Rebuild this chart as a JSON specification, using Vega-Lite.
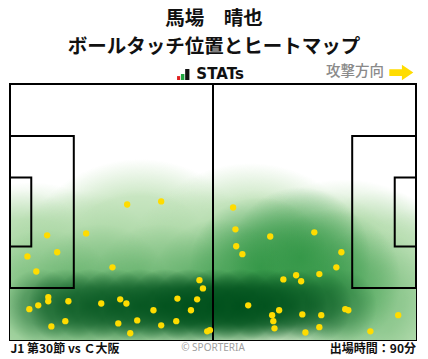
{
  "$schema": "https://vega.github.io/schema/vega-lite/v6.json",
  "width": 406,
  "height": 256,
  "autosize": {"type": "none"},
  "padding": {"left": 10, "top": 84, "right": 12, "bottom": 19},
  "background": "white",
  "config": {"view": {"stroke": "#000", "strokeWidth": 2}, "font": "Noto Sans CJK JP"},
  "datasets": {
    "touches": [
      {"x": 30.3, "y": 32.0}, {"x": 39.1, "y": 31.2}, {"x": 9.6, "y": 40.2}, {"x": 19.7, "y": 39.7},
      {"x": 12.2, "y": 44.7}, {"x": 4.5, "y": 45.8}, {"x": 6.8, "y": 49.8}, {"x": 26.5, "y": 48.7},
      {"x": 49.0, "y": 52.1}, {"x": 49.9, "y": 54.3}, {"x": 9.9, "y": 56.6}, {"x": 9.9, "y": 57.7},
      {"x": 15.1, "y": 57.7}, {"x": 7.3, "y": 58.8}, {"x": 5.0, "y": 59.8}, {"x": 23.6, "y": 58.3},
      {"x": 28.5, "y": 57.2}, {"x": 30.1, "y": 58.3}, {"x": 43.3, "y": 57.0}, {"x": 48.4, "y": 57.2},
      {"x": 37.1, "y": 60.1}, {"x": 46.8, "y": 60.1}, {"x": 14.3, "y": 63.0}, {"x": 10.7, "y": 64.4},
      {"x": 28.0, "y": 63.6}, {"x": 32.9, "y": 62.8}, {"x": 43.0, "y": 63.0}, {"x": 39.1, "y": 64.1},
      {"x": 31.1, "y": 66.2}, {"x": 51.0, "y": 65.7}, {"x": 51.7, "y": 65.4},
      {"x": 57.7, "y": 32.8}, {"x": 58.3, "y": 38.6}, {"x": 67.3, "y": 40.5}, {"x": 78.7, "y": 39.4},
      {"x": 58.5, "y": 43.1}, {"x": 60.1, "y": 45.2}, {"x": 85.7, "y": 44.7}, {"x": 84.4, "y": 48.7},
      {"x": 80.0, "y": 50.5}, {"x": 74.0, "y": 50.8}, {"x": 70.7, "y": 51.9}, {"x": 75.3, "y": 52.4},
      {"x": 61.6, "y": 58.8}, {"x": 69.6, "y": 60.1}, {"x": 67.8, "y": 61.4}, {"x": 68.1, "y": 63.0},
      {"x": 68.4, "y": 64.9}, {"x": 75.6, "y": 61.2}, {"x": 80.5, "y": 61.4}, {"x": 80.0, "y": 64.6},
      {"x": 76.4, "y": 66.0}, {"x": 86.7, "y": 59.8}, {"x": 87.5, "y": 60.1}, {"x": 100.4, "y": 61.4},
      {"x": 93.2, "y": 65.7}
    ],
    "heat": [
      {"level": "pale", "x": 5.2, "y": 61.4, "w": 1},
      {"level": "pale", "x": 33.6, "y": 55.2, "w": 1},
      {"level": "pale", "x": 62.1, "y": 56.3, "w": 1},
      {"level": "pale", "x": 86.6, "y": 60.6, "w": 1},
      {"level": "pale", "x": 108.6, "y": 68.0, "w": 1},
      {"level": "light", "x": 2.6, "y": 49.4, "w": 0.55},
      {"level": "light", "x": 18.1, "y": 49.4, "w": 0.55},
      {"level": "light", "x": 33.6, "y": 49.4, "w": 0.55},
      {"level": "light", "x": 49.1, "y": 49.4, "w": 0.55},
      {"level": "light", "x": 64.7, "y": 49.4, "w": 0.6},
      {"level": "light", "x": 80.2, "y": 49.4, "w": 0.6},
      {"level": "light", "x": 95.7, "y": 49.4, "w": 0.45},
      {"level": "light", "x": 5.2, "y": 65.3, "w": 0.4},
      {"level": "light", "x": 28.4, "y": 65.3, "w": 0.4},
      {"level": "light", "x": 98.3, "y": 65.3, "w": 0.4},
      {"level": "mid", "x": 75.0, "y": 46.2, "w": 1},
      {"level": "mid", "x": 64.7, "y": 48.9, "w": 1},
      {"level": "mid", "x": 82.8, "y": 52.1, "w": 0.75},
      {"level": "mid", "x": 54.3, "y": 54.7, "w": 0.6},
      {"level": "mid", "x": 38.8, "y": 56.0, "w": 0.5},
      {"level": "mid", "x": 23.3, "y": 56.0, "w": 0.5},
      {"level": "mid", "x": 9.1, "y": 57.4, "w": 0.4},
      {"level": "mid", "x": 93.1, "y": 57.4, "w": 0.4},
      {"level": "dark", "x": 7.8, "y": 59.0, "w": 0.45},
      {"level": "dark", "x": 14.2, "y": 59.0, "w": 0.6},
      {"level": "dark", "x": 20.7, "y": 59.0, "w": 0.7},
      {"level": "dark", "x": 27.2, "y": 59.0, "w": 0.75},
      {"level": "dark", "x": 33.6, "y": 59.0, "w": 0.8},
      {"level": "dark", "x": 40.1, "y": 59.0, "w": 0.9},
      {"level": "dark", "x": 46.5, "y": 59.0, "w": 1},
      {"level": "dark", "x": 53.0, "y": 59.0, "w": 1},
      {"level": "dark", "x": 59.5, "y": 59.0, "w": 1},
      {"level": "dark", "x": 65.9, "y": 59.0, "w": 0.9},
      {"level": "dark", "x": 72.4, "y": 59.0, "w": 0.75},
      {"level": "dark", "x": 78.9, "y": 59.0, "w": 0.55},
      {"level": "dark", "x": 85.3, "y": 59.0, "w": 0.35}
    ],
    "boxes": [
      {"x": 0, "x2": 16.5, "y": 13.84, "y2": 54.16},
      {"x": 0, "x2": 5.5, "y": 24.84, "y2": 43.16},
      {"x": 88.5, "x2": 105, "y": 13.84, "y2": 54.16},
      {"x": 99.5, "x2": 105, "y": 24.84, "y2": 43.16}
    ]
  },
  "layer": [
    {
      "data": {"name": "heat"},
      "transform": [{"filter": {"field": "level", "equal": "pale"}}],
      "mark": {"type": "point", "shape": "circle", "filled": true, "size": 70686, "clip": true, "strokeWidth": 0,
        "fill": {"gradient": "radial", "x1": 0.5, "y1": 0.5, "r1": 0, "x2": 0.5, "y2": 0.5, "r2": 0.5,
          "stops": [{"offset": 0, "color": "#cbe7c4"}, {"offset": 0.72, "color": "#cbe7c4"}, {"offset": 1, "color": "rgba(203,231,196,0)"}]}},
      "encoding": {
        "x": {"field": "x", "type": "quantitative", "scale": {"domain": [0, 105], "nice": false, "zero": false}, "axis": null},
        "y": {"field": "y", "type": "quantitative", "scale": {"domain": [0, 68], "reverse": true, "nice": false, "zero": false}, "axis": null},
        "opacity": {"field": "w", "type": "quantitative", "scale": {"domain": [0, 1], "range": [0, 1]}, "legend": null}
      }
    },
    {
      "data": {"name": "heat"},
      "transform": [{"filter": {"field": "level", "equal": "light"}}],
      "mark": {"type": "point", "shape": "circle", "filled": true, "size": 25447, "clip": true, "strokeWidth": 0,
        "fill": {"gradient": "radial", "x1": 0.5, "y1": 0.5, "r1": 0, "x2": 0.5, "y2": 0.5, "r2": 0.5,
          "stops": [{"offset": 0, "color": "rgba(140,200,135,1)"}, {"offset": 0.5, "color": "rgba(140,200,135,0.6)"}, {"offset": 1, "color": "rgba(140,200,135,0)"}]}},
      "encoding": {
        "x": {"field": "x", "type": "quantitative"},
        "y": {"field": "y", "type": "quantitative"},
        "opacity": {"field": "w", "type": "quantitative"}
      }
    },
    {
      "data": {"name": "heat"},
      "transform": [{"filter": {"field": "level", "equal": "mid"}}],
      "mark": {"type": "point", "shape": "circle", "filled": true, "size": 20106, "clip": true, "strokeWidth": 0,
        "fill": {"gradient": "radial", "x1": 0.5, "y1": 0.5, "r1": 0, "x2": 0.5, "y2": 0.5, "r2": 0.5,
          "stops": [{"offset": 0, "color": "rgba(50,150,70,0.9)"}, {"offset": 0.5, "color": "rgba(50,150,70,0.55)"}, {"offset": 1, "color": "rgba(50,150,70,0)"}]}},
      "encoding": {
        "x": {"field": "x", "type": "quantitative"},
        "y": {"field": "y", "type": "quantitative"},
        "opacity": {"field": "w", "type": "quantitative"}
      }
    },
    {
      "data": {"name": "heat"},
      "transform": [{"filter": {"field": "level", "equal": "dark"}}],
      "mark": {"type": "point", "shape": "circle", "filled": true, "size": 5540, "clip": true, "strokeWidth": 0,
        "fill": {"gradient": "radial", "x1": 0.5, "y1": 0.5, "r1": 0, "x2": 0.5, "y2": 0.5, "r2": 0.5,
          "stops": [{"offset": 0, "color": "rgba(0,80,28,1)"}, {"offset": 0.5, "color": "rgba(0,80,28,0.75)"}, {"offset": 1, "color": "rgba(0,80,28,0)"}]}},
      "encoding": {
        "x": {"field": "x", "type": "quantitative"},
        "y": {"field": "y", "type": "quantitative"},
        "opacity": {"field": "w", "type": "quantitative"}
      }
    },
    {
      "data": {"name": "boxes"},
      "mark": {"type": "rect", "filled": false, "stroke": "#000", "strokeWidth": 2, "clip": true},
      "encoding": {
        "x": {"field": "x", "type": "quantitative"},
        "x2": {"field": "x2"},
        "y": {"field": "y", "type": "quantitative"},
        "y2": {"field": "y2"}
      }
    },
    {
      "data": {"values": [{"x": 52.5}]},
      "mark": {"type": "rule", "stroke": "#000", "strokeWidth": 2},
      "encoding": {"x": {"field": "x", "type": "quantitative"}}
    },
    {
      "data": {"name": "touches"},
      "mark": {"type": "point", "shape": "circle", "filled": true, "size": 40, "color": "#ffdc00", "opacity": 1, "strokeWidth": 0},
      "encoding": {
        "x": {"field": "x", "type": "quantitative"},
        "y": {"field": "y", "type": "quantitative"}
      }
    },
    {
      "data": {"values": [{"t": "馬場　晴也"}]},
      "mark": {"type": "text", "fontSize": 19.5, "fontWeight": "bold", "align": "center", "baseline": "middle", "color": "#111"},
      "encoding": {"text": {"field": "t"}, "x": {"datum": 52.75}, "y": {"datum": -17.25}}
    },
    {
      "data": {"values": [{"t": "ボールタッチ位置とヒートマップ"}]},
      "mark": {"type": "text", "fontSize": 19.5, "fontWeight": "bold", "align": "center", "baseline": "middle", "color": "#111"},
      "encoding": {"text": {"field": "t"}, "x": {"datum": 52.75}, "y": {"datum": -9.95}}
    },
    {
      "data": {"values": [{}]},
      "mark": {"type": "rect", "color": "#e02020"},
      "encoding": {"x": {"datum": 43.2}, "x2": {"datum": 44.0}, "y": {"datum": -2.1}, "y2": {"datum": -1.06}}
    },
    {
      "data": {"values": [{}]},
      "mark": {"type": "rect", "color": "#1fa640"},
      "encoding": {"x": {"datum": 44.2}, "x2": {"datum": 45.1}, "y": {"datum": -2.66}, "y2": {"datum": -1.06}}
    },
    {
      "data": {"values": [{}]},
      "mark": {"type": "rect", "color": "#111"},
      "encoding": {"x": {"datum": 45.3}, "x2": {"datum": 46.4}, "y": {"datum": -3.98}, "y2": {"datum": -1.06}}
    },
    {
      "data": {"values": [{"t": "STATs"}]},
      "mark": {"type": "text", "font": "DejaVu Sans", "fontSize": 15, "fontWeight": "bold", "align": "left", "baseline": "middle", "color": "#111"},
      "encoding": {"text": {"field": "t"}, "x": {"datum": 48.2}, "y": {"datum": -2.6}}
    },
    {
      "data": {"values": [{"t": "攻撃方向"}]},
      "mark": {"type": "text", "fontSize": 14.5, "fontWeight": 500, "align": "right", "baseline": "middle", "color": "#8a8a8a"},
      "encoding": {"text": {"field": "t"}, "x": {"datum": 96.7}, "y": {"datum": -3.2}}
    },
    {
      "data": {"values": [{}]},
      "mark": {"type": "point", "filled": true, "size": 576, "color": "#ffdc00", "opacity": 1, "strokeWidth": 0,
        "shape": "M-1,-0.28L0.05,-0.28L0.05,-0.65L1,0L0.05,0.65L0.05,0.28L-1,0.28Z"},
      "encoding": {"x": {"datum": 101.2}, "y": {"datum": -3.05}}
    },
    {
      "data": {"values": [{"t": "J1 第30節 vs Ｃ大阪"}]},
      "mark": {"type": "text", "fontSize": 12, "fontWeight": "bold", "align": "left", "baseline": "middle", "color": "#111"},
      "encoding": {"text": {"field": "t"}, "x": {"datum": 0.1}, "y": {"datum": 70.4}}
    },
    {
      "data": {"values": [{"t": "© SPORTERIA"}]},
      "mark": {"type": "text", "font": "Noto Sans", "fontSize": 10, "align": "center", "baseline": "middle", "color": "#a0a0a0"},
      "encoding": {"text": {"field": "t"}, "x": {"datum": 52.5}, "y": {"datum": 70.1}}
    },
    {
      "data": {"values": [{"t": "出場時間：90分"}]},
      "mark": {"type": "text", "fontSize": 12, "fontWeight": "bold", "align": "right", "baseline": "middle", "color": "#111"},
      "encoding": {"text": {"field": "t"}, "x": {"datum": 105}, "y": {"datum": 70.4}}
    }
  ]
}
